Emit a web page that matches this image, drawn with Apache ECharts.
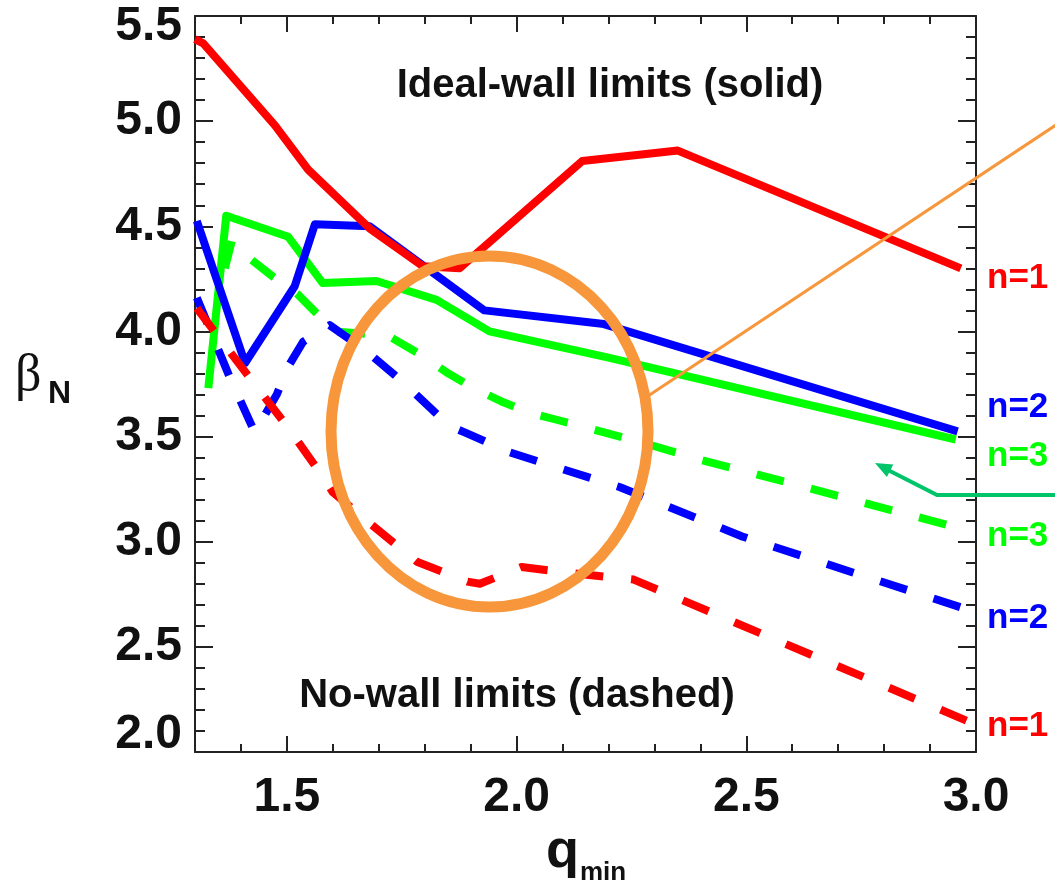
<!DOCTYPE html>
<html>
<head>
<meta charset="utf-8">
<script src="https://cdn.jsdelivr.net/npm/echarts@6/dist/echarts.min.js"></script>
<style>
  html, body { margin: 0; padding: 0; background: #fff; }
  #chart { width: 1055px; height: 887px; }
</style>
</head>
<body>
<div id="chart"></div>
<script>
// Beta_N stability limits versus q_min, [q_min, beta_N] pairs.
// Ideal-wall limits (solid lines)
const n1Ideal = [[1.300, 5.39], [1.318, 5.37], [1.474, 4.98], [1.546, 4.77], [1.680, 4.49],
                 [1.796, 4.31], [1.876, 4.30], [2.143, 4.81], [2.351, 4.86], [2.967, 4.30]];
const n2Ideal = [[1.304, 4.525], [1.409, 3.85], [1.517, 4.215], [1.561, 4.51], [1.680, 4.50],
                 [1.930, 4.10], [2.190, 4.035], [2.960, 3.525]];
const n3Ideal = [[1.329, 3.73], [1.368, 4.55], [1.503, 4.45], [1.578, 4.23], [1.695, 4.24],
                 [1.826, 4.15], [1.941, 4.00], [2.200, 3.875], [2.956, 3.486]];
// No-wall limits (dashed lines)
const n1NoWall = [[1.304, 4.11], [1.426, 3.76], [1.500, 3.55], [1.578, 3.31], [1.600, 3.235],
                  [1.685, 3.08], [1.783, 2.905], [1.893, 2.81], [1.920, 2.80], [2.011, 2.88],
                  [2.122, 2.85], [2.255, 2.82], [3.000, 2.13]];
const n2NoWall = [[1.304, 4.16], [1.376, 3.78], [1.430, 3.52], [1.478, 3.70], [1.502, 3.83],
                  [1.535, 3.95], [1.593, 4.03], [1.674, 3.905], [1.752, 3.76], [1.854, 3.55],
                  [1.887, 3.52], [1.985, 3.425], [2.100, 3.345], [2.224, 3.26], [2.304, 3.19],
                  [2.491, 3.025], [2.730, 2.855], [2.970, 2.686]];
const n3NoWall = [[1.365, 4.30], [1.380, 4.43], [1.423, 4.34], [1.470, 4.26], [1.522, 4.18],
                  [1.604, 4.00], [1.720, 3.98], [1.783, 3.90], [1.848, 3.805], [1.904, 3.733],
                  [1.967, 3.667], [2.028, 3.614], [2.087, 3.58], [2.152, 3.543], [2.274, 3.471],
                  [2.400, 3.39], [2.593, 3.28], [2.837, 3.138], [2.959, 3.067]];

// Axis ticks
const xMajorTicks = [1.5, 2.0, 2.5, 3.0];
const xMinorTicks = [1.4, 1.6, 1.7, 1.8, 1.9, 2.1, 2.2, 2.3, 2.4, 2.6, 2.7, 2.8, 2.9];
const yTickLabels = ['2.0', '2.5', '3.0', '3.5', '4.0', '4.5', '5.0', '5.5'];

const RED = '#FF0000', BLUE = '#0000FF', GREEN = '#00FF00';
const ORANGE = '#F7963A', ARROW = '#00C46A';
const FRAME = '#222222';
const FONT = '"Liberation Sans", Arial, Helvetica, sans-serif';

const chart = echarts.init(document.getElementById('chart'), null, { renderer: 'canvas' });

const tickLine = { color: FRAME, width: 2 };
const labelFont = { fontFamily: FONT, fontWeight: 'bold', fontSize: 48, color: '#111', lineHeight: 48 };

function xAxisDef(position, major) {
  return {
    type: 'value', min: 1.3, max: 3.0, position: position,
    axisLine: { show: major, onZero: false, lineStyle: { color: FRAME, width: 2 } },
    axisTick: { show: true, inside: true, length: major ? 16 : 8,
                customValues: major ? xMajorTicks : xMinorTicks, lineStyle: tickLine },
    axisLabel: (position === 'bottom' && major) ? Object.assign({
      show: true, customValues: xMajorTicks, margin: 22,
      formatter: v => v.toFixed(1)
    }, labelFont) : { show: false },
    splitLine: { show: false }
  };
}

function yAxisDef(position) {
  const left = position === 'left';
  return {
    type: 'value', min: 2.0, max: 5.5, interval: 0.5, position: position,
    axisLine: { show: true, onZero: false, lineStyle: { color: FRAME, width: 2 } },
    axisTick: { show: true, inside: true, length: 18, lineStyle: tickLine },
    minorTick: { show: true, splitNumber: 5, length: 10, lineStyle: tickLine },
    axisLabel: left ? {
      show: true, margin: 13,
      formatter: v => {
        const s = yTickLabels[Math.round((v - 2.0) / 0.5)];
        if (v >= 5.5) return '{top|' + s + '}';
        if (v <= 2.0) return '{bot|' + s + '}';
        return '{mid|' + s + '}';
      },
      rich: {
        top: Object.assign({ padding: [22, 0, 0, 0] }, labelFont),
        bot: Object.assign({ padding: [0, 0, 34, 0] }, labelFont),
        mid: Object.assign({}, labelFont)
      }
    } : { show: false },
    splitLine: { show: false }
  };
}

function lineSeries(name, data, color, dashed) {
  return {
    name: name, type: 'line', data: data, xAxisIndex: 0, yAxisIndex: 0,
    showSymbol: false, symbol: 'none', clip: true, silent: true,
    lineStyle: {
      color: color, width: 8,
      type: dashed ? [28, 28] : 'solid',
      cap: 'butt', join: 'round'
    },
    z: 2
  };
}

function textEl(text, x, y, size, color, opts) {
  return Object.assign({
    type: 'text', x: x, y: y, z: 120,
    style: {
      text: text, fill: color || '#111', fontFamily: FONT, fontWeight: 'bold',
      fontSize: size, align: 'left', verticalAlign: 'middle'
    }
  }, opts || {});
}

const option = {
  backgroundColor: '#ffffff',
  animation: false,
  grid: { left: 195, right: 79, top: 16, bottom: 135, containLabel: false, outerBoundsMode: 'none' },
  xAxis: [xAxisDef('bottom', true), xAxisDef('bottom', false), xAxisDef('top', true), xAxisDef('top', false)],
  yAxis: [yAxisDef('left'), yAxisDef('right')],
  series: [
    lineSeries('n=3 ideal wall', n3Ideal, GREEN, false),
    lineSeries('n=3 no wall', n3NoWall, GREEN, true),
    lineSeries('n=2 ideal wall', n2Ideal, BLUE, false),
    lineSeries('n=2 no wall', n2NoWall, BLUE, true),
    lineSeries('n=1 no wall', n1NoWall, RED, true),
    lineSeries('n=1 ideal wall', n1Ideal, RED, false)
  ],
  graphic: [
    // highlighted region and its leader line
    { type: 'line', z: 100, shape: { x1: 645, y1: 398, x2: 1062, y2: 121 },
      style: { stroke: ORANGE, lineWidth: 3 } },
    { type: 'ellipse', z: 101, shape: { cx: 489.5, cy: 431.5, rx: 158.5, ry: 175.5 },
      style: { fill: null, stroke: ORANGE, lineWidth: 11 } },
    // pointer arrow
    { type: 'polyline', z: 100, shape: { points: [[1062, 495], [937, 495], [888, 470]] },
      style: { stroke: ARROW, lineWidth: 4, fill: null, lineJoin: 'miter' } },
    { type: 'polygon', z: 100, shape: { points: [[875, 463], [893.3, 464.6], [886.9, 477.0]] },
      style: { fill: ARROW } },
    // annotations
    textEl('Ideal-wall limits (solid)', 610, 86, 40, '#111', { style: {
      text: 'Ideal-wall limits (solid)', fill: '#111', fontFamily: FONT, fontWeight: 'bold',
      fontSize: 40, align: 'center', verticalAlign: 'middle' } }),
    textEl('No-wall limits (dashed)', 517, 696, 40, '#111', { style: {
      text: 'No-wall limits (dashed)', fill: '#111', fontFamily: FONT, fontWeight: 'bold',
      fontSize: 40, align: 'center', verticalAlign: 'middle' } }),
    textEl('n=1', 987, 278, 35, RED),
    textEl('n=2', 987, 407, 35, BLUE),
    textEl('n=3', 987, 456, 35, GREEN),
    textEl('n=3', 987, 536, 35, GREEN),
    textEl('n=2', 987, 618, 35, BLUE),
    textEl('n=1', 987, 726, 35, RED),
    // axis titles
    { type: 'text', x: 15, y: 376, z: 120,
      style: { text: 'β', fill: '#111', fontFamily: '"Liberation Serif", "DejaVu Serif", serif',
               fontSize: 52, align: 'left', verticalAlign: 'middle' } },
    textEl('N', 48, 394, 32, '#111'),
    textEl('q', 546, 852, 54, '#111'),
    textEl('min', 580, 873, 26, '#111')
  ]
};

chart.setOption(option);
</script>
</body>
</html>
